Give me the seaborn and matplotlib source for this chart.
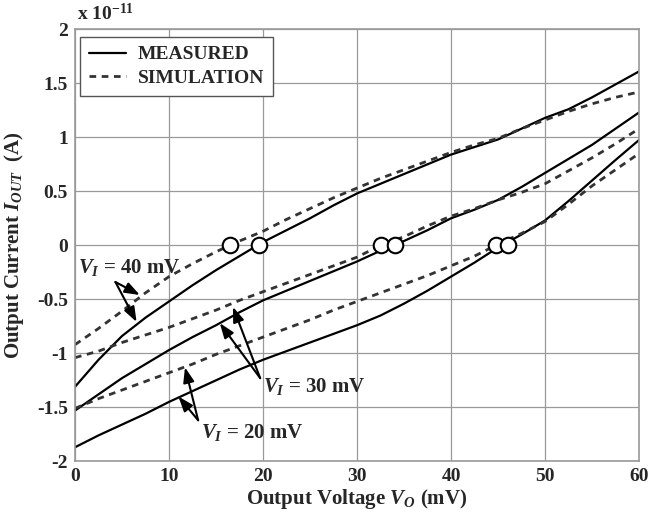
import numpy as np
import pandas as pd
import matplotlib
matplotlib.use("Agg")
import matplotlib.pyplot as plt
from matplotlib.lines import Line2D
import seaborn as sns

# ---------------- data (units of 1e-11 A) ----------------
vo = [0, 2.5, 5, 7.5, 10, 12.5, 15, 17.5, 20, 22.5, 25, 27.5, 30,
      32.5, 35, 37.5, 40, 42.5, 45, 47.5, 50, 52.5, 55, 57.5, 60]

meas_40 = [-1.31, -1.06, -0.84, -0.67, -0.52, -0.37, -0.23, -0.10, 0.03, 0.14, 0.25, 0.37, 0.48,
           0.57, 0.66, 0.75, 0.84, 0.91, 0.98, 1.08, 1.18, 1.26, 1.37, 1.49, 1.61]
sim_40 = [-0.92, -0.77, -0.61, -0.44, -0.29, -0.17, -0.06, 0.04, 0.13, 0.24, 0.34, 0.44, 0.53,
          0.62, 0.70, 0.78, 0.86, 0.93, 0.99, 1.08, 1.16, 1.24, 1.31, 1.37, 1.42]

meas_30 = [-1.53, -1.38, -1.23, -1.10, -0.97, -0.85, -0.74, -0.62, -0.51, -0.42, -0.33, -0.24, -0.15,
           -0.05, 0.04, 0.14, 0.25, 0.33, 0.42, 0.54, 0.67, 0.80, 0.93, 1.08, 1.23]
sim_30 = [-1.04, -0.98, -0.90, -0.83, -0.76, -0.68, -0.60, -0.51, -0.43, -0.35, -0.27, -0.19, -0.11,
          0.00, 0.08, 0.18, 0.27, 0.34, 0.42, 0.49, 0.57, 0.69, 0.81, 0.94, 1.08]

meas_20 = [-1.87, -1.76, -1.66, -1.56, -1.45, -1.35, -1.25, -1.15, -1.06, -0.98, -0.90, -0.82, -0.74,
           -0.65, -0.54, -0.42, -0.29, -0.16, -0.02, 0.10, 0.23, 0.41, 0.60, 0.79, 0.975]
sim_20 = [-1.51, -1.42, -1.34, -1.26, -1.18, -1.10, -1.01, -0.93, -0.85, -0.77, -0.69, -0.60, -0.52,
          -0.44, -0.36, -0.28, -0.19, -0.10, 0.01, 0.11, 0.22, 0.38, 0.55, 0.70, 0.85]

zero_x = [16.5, 19.6, 32.5, 34.0, 44.8, 46.1]
zero_y = [0, 0, 0, 0, 0, 0]

xticks = [0, 10, 20, 30, 40, 50, 60]
yticks = [-2, -1.5, -1, -0.5, 0, 0.5, 1, 1.5, 2]
ytick_labels = ["-2", "-1.5", "-1", "-0.5", "0", "0.5", "1", "1.5", "2"]

legend_labels = ["MEASURED", "SIMULATION"]
vi_labels = ["40 mV", "30 mV", "20 mV"]

# ---------------- style ----------------
sns.set_theme(style="white")
plt.rcParams["font.family"] = ["Liberation Serif", "DejaVu Serif"]
plt.rcParams["font.weight"] = "bold"
plt.rcParams["axes.unicode_minus"] = False
plt.rcParams["mathtext.fontset"] = "custom"
plt.rcParams["mathtext.rm"] = "Liberation Serif:bold"
plt.rcParams["mathtext.it"] = "Liberation Serif:italic:bold"
plt.rcParams["mathtext.bf"] = "Liberation Serif:bold"

fig = plt.figure(figsize=(6.62, 5.16), dpi=100)
ax = fig.add_axes([0.1133, 0.106, 0.852, 0.8372])

dash = (0, (2.4, 2.0))
for m in (meas_40, meas_30, meas_20):
    sns.lineplot(x=vo, y=m, ax=ax, color="black", linewidth=1.6, sort=False)
for s in (sim_40, sim_30, sim_20):
    sns.lineplot(x=vo, y=s, ax=ax, color="#333333", linewidth=2.0,
                 linestyle=dash, sort=False)

sns.scatterplot(x=zero_x, y=zero_y, ax=ax, s=125, marker="o",
                facecolor="white", edgecolor="black", linewidth=1.5, zorder=5)

ax.set_xlim(0, 60)
ax.set_ylim(-2, 2)
ax.set_xticks(xticks)
ax.set_xticklabels([str(t) for t in xticks])
ax.set_yticks(yticks)
ax.set_yticklabels(ytick_labels)
ax.tick_params(axis="both", length=0, labelsize=14, pad=5)
for lab in ax.get_xticklabels() + ax.get_yticklabels():
    lab.set_fontweight("bold")
ax.grid(True, color="#9a9a9a", linewidth=0.9)
for sp in ax.spines.values():
    sp.set_color("#9a9a9a")
    sp.set_linewidth(1.2)

ax.set_xlabel(r"Output Voltage $V_O$ (mV)", fontsize=15, fontweight="bold", labelpad=1)
ax.set_ylabel(r"Output Current $I_{OUT}$  (A)", fontsize=15, fontweight="bold", labelpad=8)

ax.text(0.004, 1.012, r"x 10$^{\mathbf{-11}}$", transform=ax.transAxes,
        fontsize=14, fontweight="bold", ha="left", va="bottom")

# legend
handles = [Line2D([], [], color="black", linewidth=1.6),
           Line2D([], [], color="#333333", linewidth=2.0, linestyle=dash)]
leg = ax.legend(handles, legend_labels, loc="upper left",
                bbox_to_anchor=(0.009, 0.982), borderaxespad=0,
                fontsize=14, handlelength=1.9, handletextpad=0.6,
                frameon=True, fancybox=False, framealpha=1,
                borderpad=0.45, labelspacing=0.3)
leg.get_frame().set_edgecolor("#555555")
leg.get_frame().set_linewidth(1.0)
for t in leg.get_texts():
    t.set_fontweight("bold")

# annotations
arrow_kw = dict(arrowstyle="-|>,head_length=0.9,head_width=0.33",
                color="black", lw=1.5, shrinkA=0, shrinkB=0, mutation_scale=10)

ax.text(0.3, -0.30, r"$V_I$ = " + vi_labels[0], fontsize=15, fontweight="bold",
        ha="left", va="bottom")
for tip in [(6.9, -0.46), (6.55, -0.71)]:
    ax.annotate("", xy=tip, xytext=(4.3, -0.34), arrowprops=arrow_kw)

ax.text(20.0, -1.40, r"$V_I$ = " + vi_labels[1], fontsize=15, fontweight="bold",
        ha="left", va="bottom")
for tip in [(16.8, -0.57), (15.4, -0.72)]:
    ax.annotate("", xy=tip, xytext=(19.7, -1.23), arrowprops=arrow_kw)

ax.text(13.4, -1.83, r"$V_I$ = " + vi_labels[2], fontsize=15, fontweight="bold",
        ha="left", va="bottom")
for tip in [(11.7, -1.13), (11.0, -1.40)]:
    ax.annotate("", xy=tip, xytext=(13.1, -1.62), arrowprops=arrow_kw)

fig.savefig("out.png", dpi=100)
